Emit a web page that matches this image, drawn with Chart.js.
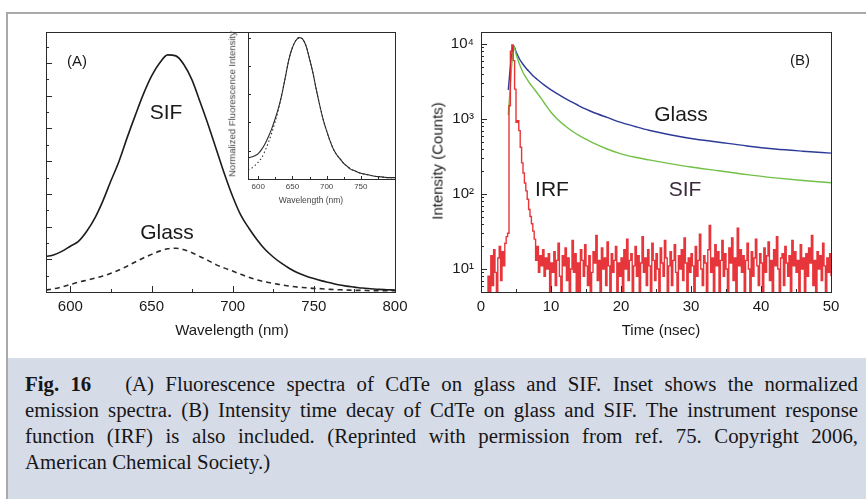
<!DOCTYPE html>
<html lang="en">
<head>
<meta charset="UTF-8">
<title>Fig. 16 - CdTe fluorescence on glass and SIF</title>
<script src="https://cdn.jsdelivr.net/npm/chart.js@4.4.1/dist/chart.umd.min.js"></script>
<style>
    body {
        margin: 0;
        background: #fff;
        font-family: "Liberation Sans", Arial, sans-serif;
        color: #1a1a1a;
    }
    #page {
        position: relative;
        width: 866px;
        height: 499px;
        overflow: hidden;
    }
    canvas { position: absolute; }
    .rule-top { position: absolute; left: 6px; top: 12px; width: 860px; height: 2px; background: #a9a9a9; }
    .rule-left { position: absolute; left: 6px; top: 12px; width: 2px; height: 487px; background: #a9a9a9; }
    .t {
        position: absolute;
        transform: translate(-50%, -50%);
        white-space: nowrap;
        line-height: 1;
    }
    .rot { transform: translate(-50%, -50%) rotate(-90deg); }
    .caption {
        position: absolute;
        left: 8px; top: 358px;
        width: 858px; height: 141px;
        background: #d6dbe8;
        font-family: "Liberation Serif", "Times New Roman", serif;
        font-size: 20.8px;
        color: #161616;
        box-sizing: border-box;
        padding: 13px 0 0 17px;
    }
    .caption .ln {
        width: 833px;
        line-height: 26px;
        white-space: nowrap;
        text-align: justify;
        text-align-last: justify;
    }
    .caption .ln.last { text-align-last: left; }
</style>
</head>
<body>
<div id="page">
    <div class="rule-top"></div>
    <div class="rule-left"></div>

    <!-- (A) emission spectra + inset, (B) decays -->
    <canvas id="spectra" width="420" height="345" style="left:0;top:0"></canvas>
    <canvas id="inset" width="180" height="195" style="left:230px;top:20px"></canvas>
    <canvas id="decay" width="446" height="345" style="left:420px;top:0"></canvas>

    <div class="t" style="left:77px;top:60px;font-size:15px">(A)</div>
    <div class="t" style="left:166px;top:111px;font-size:21px">SIF</div>
    <div class="t" style="left:167px;top:231px;font-size:21px">Glass</div>
    <div class="t" style="left:232px;top:329px;font-size:15px">Wavelength (nm)</div>

    <div class="t rot" style="left:232px;top:104px;font-size:9.5px;color:#444">Normalized Fluorescence Intensity</div>
    <div class="t" style="left:311px;top:200px;font-size:8.5px;color:#444">Wavelength (nm)</div>

    <div class="t" style="left:800px;top:59px;font-size:15px">(B)</div>
    <div class="t" style="left:681px;top:113px;font-size:21px">Glass</div>
    <div class="t" style="left:552px;top:188px;font-size:21px">IRF</div>
    <div class="t" style="left:685px;top:188px;font-size:21px;color:#3a2a3c">SIF</div>
    <div class="t" style="left:661px;top:329px;font-size:15px">Time (nsec)</div>
    <div class="t rot" style="left:437px;top:161px;font-size:15px">Intensity (Counts)</div>

    <div class="caption">
        <div class="ln"><b>Fig. 16</b>&nbsp;&nbsp; (A) Fluorescence spectra of CdTe on glass and SIF. Inset shows the normalized</div>
        <div class="ln">emission spectra. (B) Intensity time decay of CdTe on glass and SIF. The instrument response</div>
        <div class="ln">function (IRF) is also included. (Reprinted with permission from ref. 75. Copyright 2006,</div>
        <div class="ln last">American Chemical Society.)</div>
    </div>
</div>

<script>
    // ---- values ----
    // (A) emission spectra, arbitrary intensity units
    const wavelengths = [585, 590, 595, 600, 605, 610, 615, 620, 625, 630, 635, 640, 645, 650, 655,
        660, 665, 670, 675, 680, 685, 690, 695, 700, 705, 710, 715, 720, 725, 730,
        735, 740, 745, 750, 755, 760, 765, 770, 775, 780, 785, 790, 795, 800];
    const sifSpectrum = [1.08, 1.14, 1.25, 1.40, 1.55, 1.85, 2.25, 2.78, 3.40, 4.00, 4.72, 5.40, 6.05, 6.60, 7.00,
        7.25, 7.22, 6.95, 6.48, 5.80, 5.10, 4.35, 3.60, 2.92, 2.35, 1.95, 1.60, 1.30, 1.07, 0.88,
        0.72, 0.59, 0.49, 0.41, 0.34, 0.28, 0.22, 0.18, 0.15, 0.12, 0.10, 0.08, 0.07, 0.06];
    const glassSpectrum = [0.06, 0.10, 0.16, 0.23, 0.30, 0.36, 0.42, 0.49, 0.57, 0.67, 0.79, 0.92, 1.04, 1.15, 1.25,
        1.32, 1.34, 1.29, 1.20, 1.08, 0.96, 0.83, 0.73, 0.64, 0.54, 0.45, 0.37, 0.31, 0.26, 0.22,
        0.18, 0.15, 0.13, 0.11, 0.10, 0.08, 0.07, 0.06, 0.05, 0.05, 0.04, 0.04, 0.04, 0.04];
    // inset: normalized spectra
    const sifNormalized = [0.15, 0.155, 0.165, 0.18, 0.21, 0.25, 0.30, 0.36, 0.43, 0.51, 0.61, 0.73, 0.85, 0.93, 0.98,
        1.00, 0.99, 0.94, 0.85, 0.75, 0.63, 0.52, 0.42, 0.34, 0.27, 0.21, 0.17, 0.14, 0.11, 0.09,
        0.07, 0.06, 0.05, 0.04, 0.035, 0.03, 0.025, 0.02, 0.017, 0.015, 0.012, 0.01, 0.01, 0.01];
    const glassNormalized = [0.064, 0.075, 0.095, 0.12, 0.15, 0.20, 0.26, 0.33, 0.41, 0.50, 0.61, 0.73, 0.85, 0.93, 0.98,
        1.00, 0.99, 0.94, 0.85, 0.75, 0.63, 0.52, 0.42, 0.34, 0.27, 0.21, 0.17, 0.14, 0.11, 0.09,
        0.07, 0.06, 0.05, 0.04, 0.035, 0.03, 0.025, 0.02, 0.017, 0.015, 0.012, 0.01, 0.01, 0.01];

    // (B) intensity decays, counts vs ns
    const decayTime = [3.9, 4.2, 4.5, 4.7, 5.0, 5.5, 6.0, 6.5, 7.0, 7.5, 8, 9, 10, 11, 12, 13, 14, 15, 16,
        18, 20, 22, 24, 27, 30, 34, 38, 42, 46, 50];
    const glassDecay = [2440, 5000, 8300, 9400, 7940, 6310, 5370, 4680, 4170, 3720, 3390, 2850, 2450, 2140, 1880, 1680, 1500, 1350, 1230,
        1050, 900, 795, 708, 617, 550, 490, 437, 398, 372, 351];
    const sifDecay = [1130, 2800, 7080, 9300, 7410, 5370, 4170, 3470, 2950, 2570, 2240, 1660, 1230, 977, 813, 692, 603, 537, 479,
        398, 343, 309, 285, 254, 229, 204, 181, 164, 151, 141];

    // IRF, one value per 0.2 ns channel from 0 to 50 ns (values < 5 fall below the axis)
    const irfStep = 0.2;
    const irfCounts = [
        1, 1, 1, 1, 1,
        8, 2, 15, 6, 18, 9, 2, 14, 20, 7, 17, 11, 22, 27, 30,
        1500, 8000, 9700, 6000, 2500, 900, 950, 700, 420, 260, 190, 140, 110, 85, 62, 50, 40, 32, 25,
        13, 20, 9, 15, 11, 18, 8, 14, 10, 16,
        2, 12, 9, 17, 6, 13, 22, 8, 2, 15, 11, 19, 7, 14, 3, 10, 24, 9, 16, 5, 12, 2, 18, 13, 8,
        21, 11, 6, 15, 2, 9, 17, 12, 28, 7, 13, 3, 19, 10, 14, 6, 23, 11, 2, 16, 9, 13, 20, 5, 12, 8,
        14, 2, 18, 10, 25, 7, 13, 16, 3, 11, 20, 8, 15, 2, 12, 27, 9, 14, 6, 18, 11, 2, 22, 13, 7,
        16, 10, 4, 19, 12, 8, 24, 14, 2, 11, 17, 6, 13, 21, 9, 2, 15, 10, 18, 7, 26, 12, 3, 14, 9,
        16, 11, 2, 20, 8, 13, 29, 10, 6, 15, 12, 2, 18, 38, 9, 14, 5, 21, 11, 17, 2, 13, 24, 8, 16,
        10, 3, 19, 12, 26, 7, 14, 2, 35, 11, 18, 9, 15, 4, 13, 22, 10, 2, 17, 8, 14, 25, 11, 6, 16,
        12, 2, 19, 9, 15, 23, 7, 13, 3, 18, 11, 27, 10, 2, 14, 16, 6, 20, 12, 8, 15, 2, 24, 11, 17,
        9, 13, 4, 21, 10, 14, 2, 16, 8, 19, 12, 28, 6, 13, 2, 17, 10, 15, 7, 22, 11, 3, 14, 9, 16, 8
    ];

    // axis ticks
    const wavelengthTicks = [600, 650, 700, 750, 800];
    const insetWavelengthTicks = [600, 650, 700, 750];
    const timeTicks = [0, 10, 20, 30, 40, 50];
    const countTicks = [10, 100, 1000, 10000];
    const countLabels = ['10¹', '10²', '10³', '10⁴'];

    // ---- helpers ----
    const pts = (xs, ys) => xs.map((x, i) => ({ x: x, y: ys[i] }));
    const range = (a, b, step) => {
        const out = [];
        for (let v = a; v <= b + 1e-9; v += step) out.push(Math.round(v * 1000) / 1000);
        return out;
    };
    // replace the generated ticks, flag the long ones
    const setTicks = (values, isBig) => scale => {
        scale.ticks = values.map(v => ({ value: v, big: isBig(v) }));
    };

    // frame box + inward tick marks
    const frameTicks = {
        id: 'frameTicks',
        afterDatasetsDraw(chart, args, opts) {
            const ctx = chart.ctx;
            const a = chart.chartArea;
            ctx.save();
            ctx.strokeStyle = '#2a2a2a';
            ctx.lineWidth = 1;
            ctx.strokeRect(Math.round(a.left) + 0.5, Math.round(a.top) + 0.5,
                Math.round(a.right - a.left), Math.round(a.bottom - a.top));
            ['x', 'y'].forEach(id => {
                const s = chart.scales[id];
                s.ticks.forEach(t => {
                    const p = Math.round(s.getPixelForValue(t.value)) + 0.5;
                    const len = t.big ? opts.major : opts.minor;
                    ctx.beginPath();
                    if (id === 'x') {
                        ctx.moveTo(p, a.bottom);
                        ctx.lineTo(p, a.bottom - len);
                    } else {
                        ctx.moveTo(a.left, p);
                        ctx.lineTo(a.left + len, p);
                    }
                    ctx.stroke();
                });
            });
            ctx.restore();
        }
    };

    Chart.defaults.font.family = '"Liberation Sans", Arial, sans-serif';
    Chart.defaults.color = '#1a1a1a';

    const baseOptions = (padding) => ({
        responsive: false,
        animation: false,
        events: [],
        layout: { padding: padding },
        elements: { point: { radius: 0 } },
        plugins: { legend: { display: false }, tooltip: { enabled: false } }
    });

    // ---- (A) spectra ----
    const spectraOpts = baseOptions({ top: 32, right: 25, left: 0, bottom: 0 });
    spectraOpts.plugins.frameTicks = { major: 6, minor: 3 };
    spectraOpts.scales = {
        x: {
            type: 'linear', min: 585, max: 800,
            grid: { display: false, drawTicks: false }, border: { display: false },
            afterBuildTicks: setTicks(range(600, 800, 25), v => wavelengthTicks.includes(v)),
            afterFit: s => { s.height = 53; },
            ticks: {
                autoSkip: false, maxRotation: 0, padding: 6, font: { size: 15 },
                callback: v => wavelengthTicks.includes(v) ? String(v) : ''
            }
        },
        y: {
            min: 0, max: 7.95,
            grid: { display: false, drawTicks: false }, border: { display: false },
            afterBuildTicks: setTicks(range(0.5, 7.5, 0.5), v => Number.isInteger(v)),
            afterFit: s => { s.width = 46; },
            ticks: { display: false }
        }
    };
    new Chart(document.getElementById('spectra'), {
        type: 'line',
        data: {
            datasets: [
                { data: pts(wavelengths, sifSpectrum), borderColor: '#1c1c1c', borderWidth: 1.6, cubicInterpolationMode: 'monotone' },
                { data: pts(wavelengths, glassSpectrum), borderColor: '#2a2a2a', borderWidth: 1.6, borderDash: [5, 4], cubicInterpolationMode: 'monotone' }
            ]
        },
        options: spectraOpts,
        plugins: [frameTicks]
    });

    // ---- inset: normalized spectra ----
    const insetOpts = baseOptions({ top: 12, right: 15, left: 0, bottom: 0 });
    insetOpts.plugins.frameTicks = { major: 3, minor: 2 };
    insetOpts.scales = {
        x: {
            type: 'linear', min: 585, max: 800,
            grid: { display: false, drawTicks: false }, border: { display: false },
            afterBuildTicks: setTicks(range(600, 775, 25), v => insetWavelengthTicks.includes(v)),
            afterFit: s => { s.height = 36; },
            ticks: {
                autoSkip: false, maxRotation: 0, padding: 3, color: '#444', font: { size: 8 },
                callback: v => insetWavelengthTicks.includes(v) ? String(v) : ''
            }
        },
        y: {
            min: 0, max: 1.04,
            grid: { display: false, drawTicks: false }, border: { display: false },
            afterBuildTicks: setTicks(range(0.2, 1.0, 0.2), () => true),
            afterFit: s => { s.width = 18; },
            ticks: { display: false }
        }
    };
    new Chart(document.getElementById('inset'), {
        type: 'line',
        data: {
            datasets: [
                { data: pts(wavelengths, sifNormalized), borderColor: '#2a2a2a', borderWidth: 1.1, cubicInterpolationMode: 'monotone' },
                { data: pts(wavelengths, glassNormalized), borderColor: '#333', borderWidth: 1.1, borderDash: [1.5, 2.5], cubicInterpolationMode: 'monotone' }
            ]
        },
        options: insetOpts,
        plugins: [frameTicks]
    });

    // ---- (B) decays ----
    const logMin = 4.93, logMax = 14450;
    const logTickValues = [];
    [1, 10, 100, 1000].forEach(d => {
        for (let m = 1; m <= 9; m++) {
            const v = m * d;
            if (v >= logMin && v <= logMax) logTickValues.push(v);
        }
    });
    logTickValues.push(10000);

    const decayOpts = baseOptions({ top: 32, right: 35, left: 0, bottom: 0 });
    decayOpts.plugins.frameTicks = { major: 6, minor: 3 };
    decayOpts.scales = {
        x: {
            type: 'linear', min: 0, max: 50,
            grid: { display: false, drawTicks: false }, border: { display: false },
            afterBuildTicks: setTicks(range(0, 50, 5), v => timeTicks.includes(v)),
            afterFit: s => { s.height = 53; },
            ticks: {
                autoSkip: false, maxRotation: 0, padding: 6, font: { size: 15 },
                callback: v => timeTicks.includes(v) ? String(v) : ''
            }
        },
        y: {
            type: 'logarithmic', min: logMin, max: logMax,
            grid: { display: false, drawTicks: false }, border: { display: false },
            afterBuildTicks: setTicks(logTickValues, v => countTicks.includes(v)),
            afterFit: s => { s.width = 61; },
            ticks: {
                autoSkip: false, padding: 7, font: { size: 15 },
                callback: v => {
                    const i = countTicks.indexOf(v);
                    return i >= 0 ? countLabels[i] : '';
                }
            }
        }
    };
    new Chart(document.getElementById('decay'), {
        type: 'line',
        data: {
            datasets: [
                {
                    data: irfCounts.map((c, i) => ({ x: Math.round(i * irfStep * 10) / 10, y: c })),
                    borderColor: 'rgba(228, 32, 38, 0.9)', borderWidth: 1.4, stepped: true
                },
                { data: pts(decayTime, sifDecay), borderColor: '#72c047', borderWidth: 1.4, cubicInterpolationMode: 'monotone' },
                { data: pts(decayTime, glassDecay), borderColor: '#2d3a98', borderWidth: 1.4, cubicInterpolationMode: 'monotone' }
            ]
        },
        options: decayOpts,
        plugins: [frameTicks]
    });
</script>
</body>
</html>
